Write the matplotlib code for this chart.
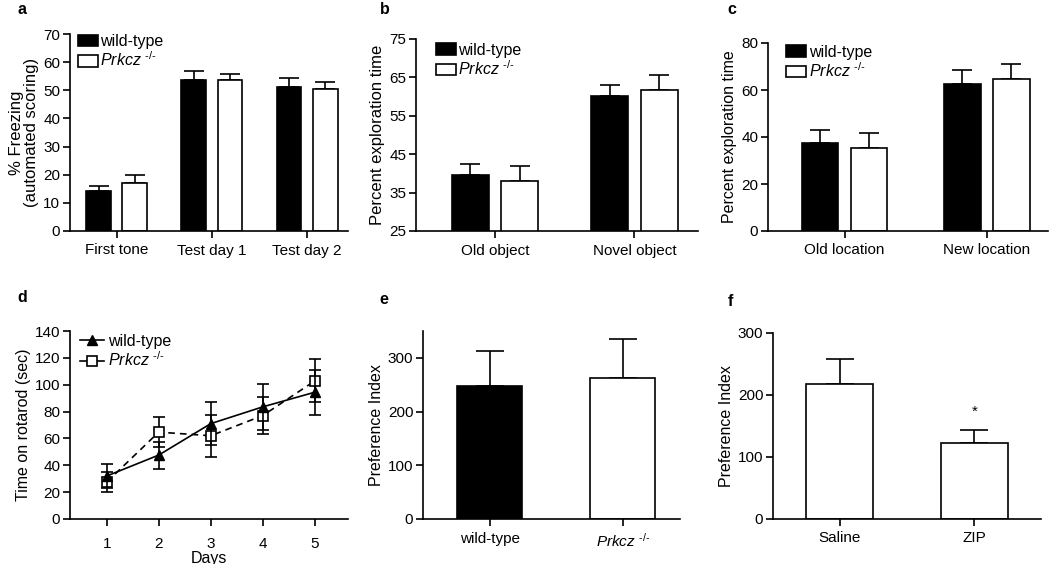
import matplotlib
matplotlib.use("Agg")
import matplotlib.pyplot as plt
from matplotlib.patches import Patch
from matplotlib.lines import Line2D
import numpy as np

plt.rcParams['font.family'] = ['Liberation Sans', 'DejaVu Sans']
plt.rcParams['mathtext.fontset'] = 'custom'
plt.rcParams['mathtext.rm'] = 'Liberation Sans'
plt.rcParams['mathtext.it'] = 'Liberation Sans:italic'
plt.rcParams['font.size'] = 10

KO = '$\\mathit{Prkcz}\\ ^{\\mathrm{\u2010/\u2010}}$'

# ---------------- data ----------------
# panel a
a_cats = ["First tone", "Test day 1", "Test day 2"]
a_wt = [14.3, 53.8, 51.1]
a_wt_err = [1.8, 3.1, 3.2]
a_ko = [17.2, 53.5, 50.5]
a_ko_err = [2.7, 2.3, 2.6]

# panel b
b_cats = ["Old object", "Novel object"]
b_wt = [39.6, 60.2]
b_wt_err = [2.8, 2.7]
b_ko = [38.0, 61.7]
b_ko_err = [4.0, 3.8]

# panel c
c_cats = ["Old location", "New location"]
c_wt = [37.3, 62.7]
c_wt_err = [5.6, 5.6]
c_ko = [35.4, 64.6]
c_ko_err = [6.4, 6.5]

# panel d
d_days = [1, 2, 3, 4, 5]
d_wt = [32, 47.6, 71, 83.5, 94.4]
d_wt_err = [9, 10, 16, 17, 16.6]
d_ko = [27.5, 64.7, 62, 77, 102.8]
d_ko_err = [7.5, 11, 15.5, 14, 16]

# panel e
e_cats = ["wild-type", KO]
e_vals = [247, 262]
e_err = [65, 73]

# panel f
f_cats = ["Saline", "ZIP"]
f_vals = [218, 122]
f_err = [40, 22]

W, H = 1050, 564
fig = plt.figure(figsize=(W / 100, H / 100), dpi=100)

TICK_FS = 11
LAB_FS = 11.5
LEG_FS = 11.5
LW = 1.2


def add_ax(left, right, top, bottom, xpad=4):
    ax = fig.add_axes([left / W, 1 - bottom / H, (right - left) / W, (bottom - top) / H])
    for s in ['top', 'right']:
        ax.spines[s].set_visible(False)
    for s in ['left', 'bottom']:
        ax.spines[s].set_linewidth(LW)
    ax.tick_params(direction='out', length=5, width=LW, labelsize=TICK_FS)
    ax.tick_params(axis='y', pad=2)
    ax.tick_params(axis='x', pad=xpad)
    return ax


def grouped(ax, cats, wt, wt_err, ko, ko_err, off, width, cap):
    x = np.arange(len(cats))
    ax.bar(x - off, wt, width, color='black', edgecolor='black', linewidth=LW, zorder=2)
    ax.bar(x + off, ko, width, color='white', edgecolor='black', linewidth=LW, zorder=2)
    ax.errorbar(x - off, wt, yerr=[np.zeros(len(wt)), wt_err], fmt='none', ecolor='black',
                elinewidth=LW, capsize=cap, capthick=LW, zorder=1)
    ax.errorbar(x + off, ko, yerr=[np.zeros(len(ko)), ko_err], fmt='none', ecolor='black',
                elinewidth=LW, capsize=cap, capthick=LW, zorder=1)
    ax.set_xticks(x)
    ax.set_xticklabels(cats)


def bar_legend(ax, xa, ya):
    handles = [Patch(facecolor='black', edgecolor='black', linewidth=LW),
               Patch(facecolor='white', edgecolor='black', linewidth=LW)]
    ax.legend(handles, ['wild-type', KO], loc='upper left', bbox_to_anchor=(xa, ya),
              frameon=False, fontsize=LEG_FS, handlelength=1.25, handleheight=0.75,
              handletextpad=0.15, labelspacing=0.1, borderpad=0, borderaxespad=0)


# ---- a
ax = add_ax(70, 348, 34, 231)
grouped(ax, a_cats, a_wt, a_wt_err, a_ko, a_ko_err, 0.19, 0.26, 7)
ax.set_xlim(-0.49, 2.43)
ax.set_ylim(0, 70)
ax.set_yticks(range(0, 71, 10))
ax.set_ylabel('% Freezing\n(automated scoring)', fontsize=12, labelpad=3, linespacing=1.0)
bar_legend(ax, 0.028, 1.0)

# ---- b
ax = add_ax(416, 698, 39, 231)
grouped(ax, b_cats, b_wt, b_wt_err, b_ko, b_ko_err, 0.178, 0.266, 7)
ax.set_xlim(-0.567, 1.457)
ax.set_ylim(25, 75)
ax.set_yticks(range(25, 76, 10))
ax.set_ylabel('Percent exploration time', fontsize=12, labelpad=3)
bar_legend(ax, 0.071, 0.98)

# ---- c
ax = add_ax(768, 1048, 43, 231)
grouped(ax, c_cats, c_wt, c_wt_err, c_ko, c_ko_err, 0.172, 0.257, 7)
ax.set_xlim(-0.538, 1.43)
ax.set_ylim(0, 80)
ax.set_yticks(range(0, 81, 20))
ax.set_ylabel('Percent exploration time', fontsize=LAB_FS, labelpad=3)
bar_legend(ax, 0.065, 0.99)

# ---- d
ax = add_ax(70, 348, 331, 519, xpad=8)
ax.errorbar(d_days, d_wt, yerr=d_wt_err, color='black', lw=LW, marker='^', ms=6.5,
            mfc='black', mec='black', capsize=4, capthick=LW, elinewidth=LW, zorder=3)
ax.errorbar(d_days, d_ko, yerr=d_ko_err, color='black', lw=LW, ls=(0, (4, 3)), marker='s', ms=7,
            mfc='white', mec='black', mew=LW, capsize=4, capthick=LW, elinewidth=LW, zorder=2)
ax.set_xlim(0.294, 5.64)
ax.set_ylim(0, 140)
ax.set_yticks(range(0, 141, 20))
ax.set_xticks(d_days)
ax.set_xlabel('Days', fontsize=LAB_FS, labelpad=0)
ax.set_ylabel('Time on rotarod (sec)', fontsize=LAB_FS, labelpad=3)
h = [Line2D([], [], color='black', lw=LW, marker='^', ms=6.5, mfc='black'),
     Line2D([], [], color='black', lw=LW, marker='s', ms=7, mfc='white', mew=LW)]
ax.legend(h, ['wild-type', KO], loc='upper left', bbox_to_anchor=(0.035, 0.985), frameon=False,
          fontsize=LEG_FS, handlelength=1.5, handletextpad=0.3, labelspacing=0.1,
          borderpad=0, borderaxespad=0)

# ---- e
ax = add_ax(423, 680, 331, 519)
x = np.arange(len(e_cats))
ax.bar(x, e_vals, 0.49, color=['black', 'white'], edgecolor='black', linewidth=LW, zorder=2)
ax.errorbar(x, e_vals, yerr=[np.zeros(2), e_err], fmt='none', ecolor='black', elinewidth=LW,
            capsize=10, capthick=LW, zorder=1)
ax.set_xticks(x)
ax.set_xticklabels(e_cats)
ax.set_xlim(-0.5, 1.43)
ax.set_ylim(0, 350)
ax.set_yticks([0, 100, 200, 300])
ax.set_ylabel('Preference Index', fontsize=LAB_FS, labelpad=3)

# ---- f
ax = add_ax(773, 1041, 333, 519)
x = np.arange(len(f_cats))
ax.bar(x, f_vals, 0.5, color='white', edgecolor='black', linewidth=LW, zorder=2)
ax.errorbar(x, f_vals, yerr=[np.zeros(2), f_err], fmt='none', ecolor='black', elinewidth=LW,
            capsize=10, capthick=LW, zorder=1)
ax.set_xticks(x)
ax.set_xticklabels(f_cats)
ax.set_xlim(-0.494, 1.495)
ax.set_ylim(0, 300)
ax.set_yticks([0, 100, 200, 300])
ax.set_ylabel('Preference Index', fontsize=LAB_FS, labelpad=3)
ax.text(1, f_vals[1] + f_err[1] + 18, '*', ha='center', va='bottom', fontsize=11)

# panel letters
for lbl, px, py in [('a', 17, 9), ('b', 380, 9), ('c', 727, 9),
                    ('d', 17, 298), ('e', 379, 300), ('f', 728, 301)]:
    fig.text(px / W, 1 - py / H, lbl, fontsize=11.5, fontweight='bold', va='center', ha='left')

fig.savefig('out.png', dpi=100)
